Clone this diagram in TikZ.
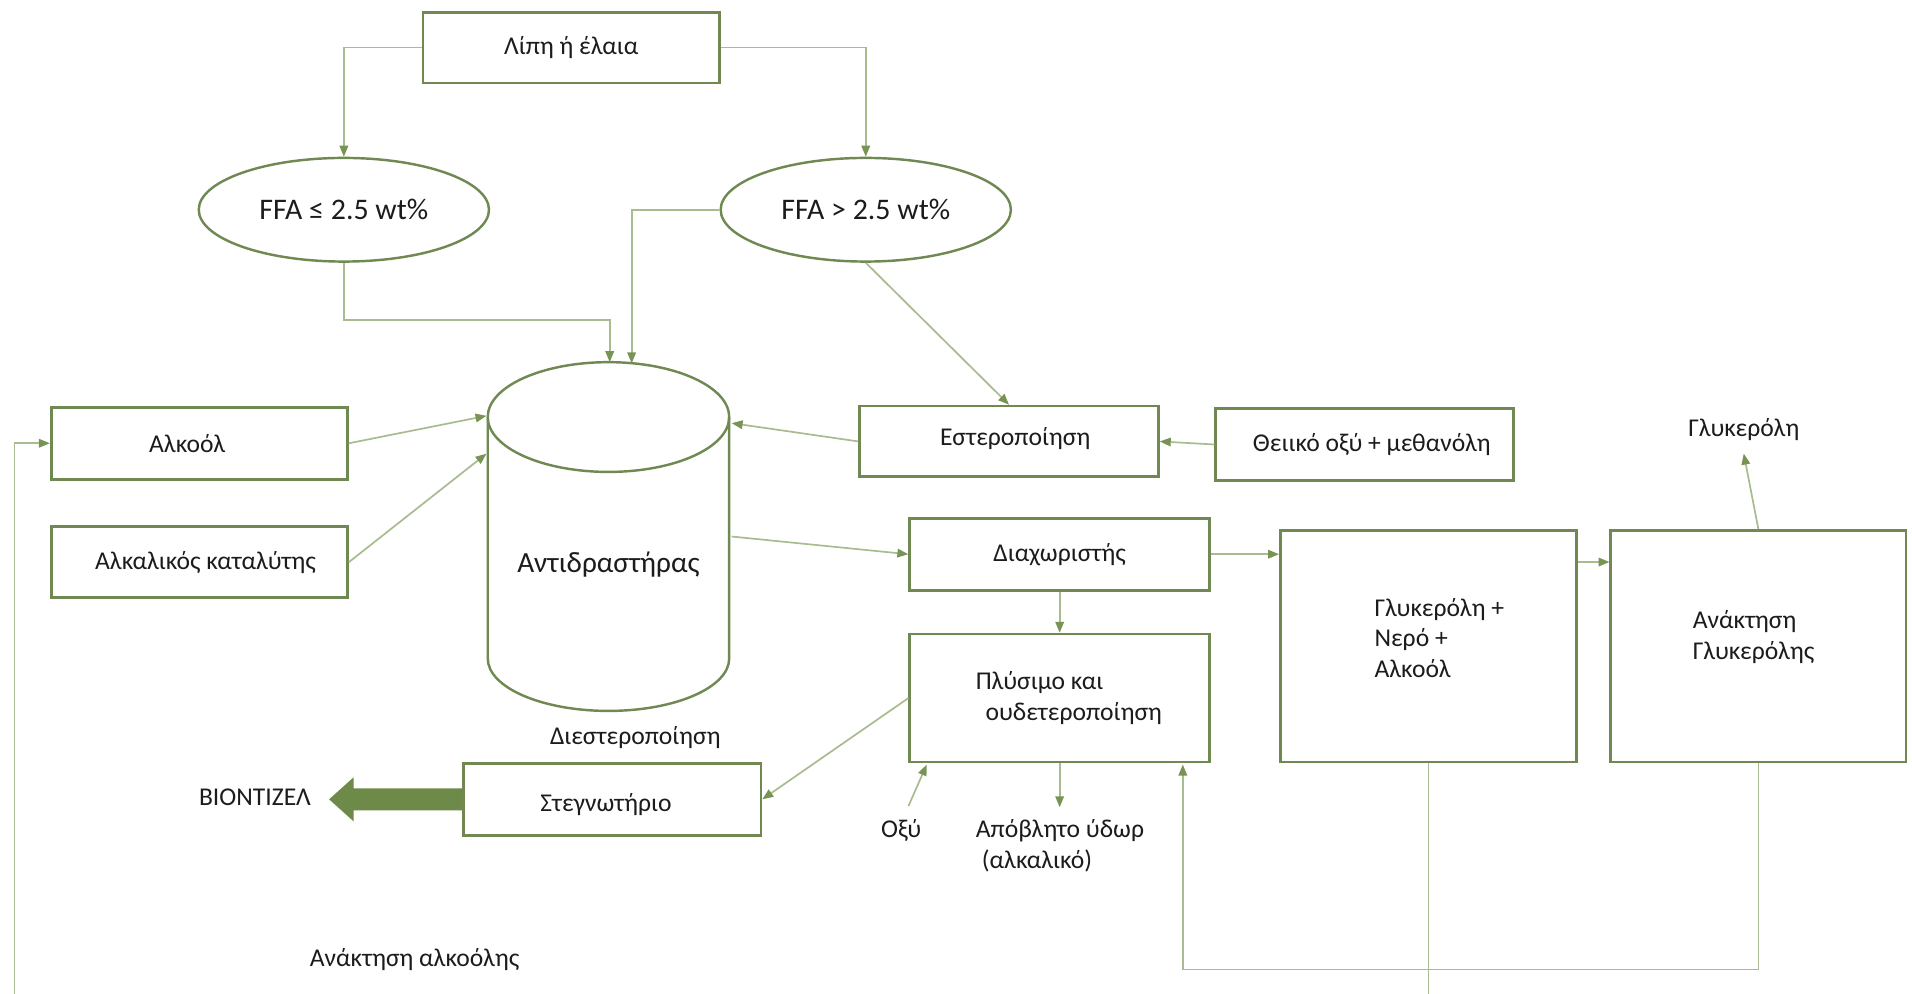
\documentclass[tikz,border=0pt]{standalone}
\usepackage{fontspec}
\setmainfont{Carlito}
\usetikzlibrary{shapes.geometric,arrows.meta,calc}
\definecolor{boxcol}{RGB}{112,137,83}
\definecolor{linecol}{RGB}{168,188,144}
\definecolor{tipcol}{RGB}{120,148,84}
\definecolor{bigcol}{RGB}{110,138,72}
\definecolor{txtcol}{RGB}{28,28,28}

\begin{document}
\begin{tikzpicture}[x=1pt,y=-1pt,
  box/.style={draw=boxcol, line width=2.2pt, rectangle, inner sep=0pt},
  oval/.style={draw=boxcol, line width=2pt, ellipse, inner sep=0pt,
    minimum width=238pt, minimum height=85pt,
    font=\fontsize{24.5}{28}\selectfont, text=txtcol},
  cyl/.style={draw=boxcol, line width=2pt},
  txt/.style={font=\fontsize{21}{25}\selectfont, text=txtcol, inner sep=0pt},
  flow/.style={draw=linecol, line width=1.4pt,
    -{Triangle[length=9pt,width=7pt,color=tipcol]}},
  plain/.style={draw=linecol, line width=1.4pt},
]
% canvas
\fill[white] (0,0) rectangle (1568,815);
\useasboundingbox (0,0) rectangle (1568,815);
\clip (0,0) rectangle (1568,815);

% ---- boxes ----
\node[box, minimum width=243pt, minimum height=58pt] (top) at (468.5,39) {};
\node[txt] at (top.center) {Λίπη ή έλαια};

\node[oval] (ffaL) at (282,172) {FFA ≤ 2.5 wt\%};
\node[oval] (ffaR) at (710,172) {FFA > 2.5 wt\%};

\node[box, minimum width=243pt, minimum height=59pt] (alk) at (163.5,363.5) {};
\node[txt] at ($(alk.center)+(-10,0)$) {Αλκοόλ};

\node[box, minimum width=243pt, minimum height=58pt] (cat) at (163.5,461) {};
\node[txt] at ($(cat.center)+(5,0)$) {Αλκαλικός καταλύτης};

\node[box, minimum width=245pt, minimum height=58pt] (est) at (827.5,362) {};
\node[txt] at ($(est.center)+(5,-2)$) {Εστεροποίηση};

\node[box, minimum width=244pt, minimum height=59pt] (theiko) at (1119,364.5) {};
\node[txt] at ($(theiko.center)+(6,0)$) {Θειικό οξύ + μεθανόλη};

\node[box, minimum width=246pt, minimum height=59pt] (diax) at (869,454.5) {};
\node[txt] at (diax.center) {Διαχωριστής};

\node[box, minimum width=246pt, minimum height=105pt] (plys) at (869,572.5) {};
\node[txt, align=left, anchor=west] at (800,572.5) {Πλύσιμο και\\\hspace*{8pt}ουδετεροποίηση};

\node[box, minimum width=244pt, minimum height=59pt] (steg) at (502,655.5) {};
\node[txt] at ($(steg.center)+(-5,4)$) {Στεγνωτήριο};

\node[box, minimum width=243pt, minimum height=190pt] (gly) at (1171.5,530) {};
\node[txt, align=left, anchor=west] at (1127,523) {Γλυκερόλη +\\Νερό +\\Αλκοόλ};

\node[box, minimum width=242pt, minimum height=190pt] (anak) at (1442,530) {};
\node[txt, align=left, anchor=west] at (1388,522.5) {Ανάκτηση\\Γλυκερόλης};

% ---- reactor (vertical cylinder) ----
\node[minimum width=198pt, minimum height=286pt, inner sep=0pt] (reactor) at (499,440) {};
\draw[cyl] (400,342) -- (400,540)
  arc[start angle=180, end angle=360, x radius=99pt, y radius=43pt] -- (598,342);
\draw[cyl] (499,342) ellipse[x radius=99pt, y radius=45pt];
\node[txt, font=\fontsize{24}{28}\selectfont] at (499,463) {Αντιδραστήρας};
\node[txt] (trans) at (521,605) {Διεστεροποίηση};

\coordinate (rInAlk) at (399,341);
\coordinate (rInCat) at (399,372);
\coordinate (rInEst) at (600,347);
\coordinate (rOut)   at (600,440);
\coordinate (rTopL)  at (500,297);
\coordinate (rTopR)  at (518,298);

% ---- free labels ----
\node[txt] (glyout) at (1430,352) {Γλυκερόλη};
\node[txt] (oxy) at (739,681) {Οξύ};
\node[txt, align=left, anchor=west] (waste) at (800,693.5) {Απόβλητο ύδωρ\\\hspace*{5pt}(αλκαλικό)};
\node[txt] (bio) at (209,654) {ΒΙΟΝΤΙΖΕΛ};
\node[txt] (alkrec) at (340,787) {Ανάκτηση αλκοόλης};

\coordinate (oxyTop)  at (745,661);
\coordinate (plysIn)  at (760,627);
\coordinate (wasteIn) at (869,662);
\coordinate (plysRet) at (970,627);
\coordinate (loopLow) at (12,830);
\coordinate (glyOut)  at (1430,372);

% ---- connectors ----
\draw[flow] (top.west) -| (ffaL.north);
\draw[flow] (top.east) -| (ffaR.north);
\draw[flow] (ffaL.south) -- ++(0,47) -| (rTopL);
\draw[flow] (ffaR.west) -| (rTopR);
\draw[flow] (ffaR.south) -- (est.north);
\draw[flow] (theiko.west) -- (est.east);
\draw[flow] (est.west) -- (rInEst);
\draw[flow] (alk.east) -- (rInAlk);
\draw[flow] (cat.east) -- (rInCat);
\draw[flow] (rOut) -- (diax.west);
\draw[flow] (diax.east) -- (diax.east -| gly.west);
\draw[flow] ($(gly.north east)+(0,27)$) -- ($(anak.north west)+(0,27)$);
\draw[flow] (anak.north) -- (glyOut);
\draw[flow] (diax.south) -- (plys.north);
\draw[flow] (plys.west) -- (steg.east);
\draw[flow] (oxyTop) -- (plysIn);
\draw[flow] (plys.south) -- (wasteIn);
\draw[flow] (anak.south) -- ++(0,169) -| (plysRet);
\draw[plain] (gly.south) -- ++(0,220);
\draw[flow] (loopLow) |- (alk.west);

% biodiesel block arrow
\fill[bigcol] (steg.west) ++(0,-9) -- ++(-89,0) -- ++(0,-9) -- ++(-20,18)
  -- ++(20,18) -- ++(0,-9) -- ++(89,0) -- cycle;
\end{tikzpicture}
\end{document}
